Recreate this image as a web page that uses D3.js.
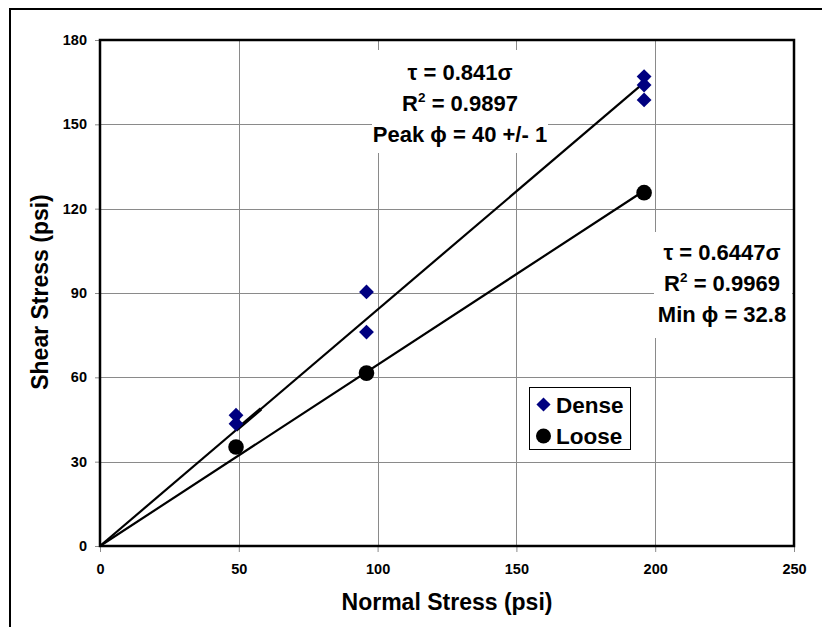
<!DOCTYPE html>
<html><head><meta charset="utf-8">
<script src="https://cdn.jsdelivr.net/npm/d3@7"></script>
<style>body{margin:0;background:#fff}svg{display:block}text{font-family:Arial,"Liberation Sans",sans-serif;font-weight:bold}</style>
</head><body>
<svg id="c" width="822" height="627"></svg>
<script>
// ---- data ----
const xTicks = [0, 50, 100, 150, 200, 250];
const yTicks = [0, 30, 60, 90, 120, 150, 180];
const denseX = [49, 49, 96, 96, 196, 196, 196];
const denseY = [46.5, 43.5, 90.4, 76.1, 167, 164, 158.7];
const looseX = [49, 96, 196];
const looseY = [35.2, 61.5, 125.7];
const denseSlope = 0.841;
const looseSlope = 0.6447;
const fitRange = [0, 196];
const denseExtraRange = [49, 58];
const seriesNames = ["Dense", "Loose"];
const denseLabel = ["τ = 0.841σ", "R|2| = 0.9897", "Peak ϕ = 40 +/- 1"];
const looseLabel = ["τ = 0.6447σ", "R|2| = 0.9969", "Min ϕ = 32.8"];
const xTitle = "Normal Stress (psi)";
const yTitle = "Shear Stress (psi)";

// ---- chart ----
const svg = d3.select("#c");
const x = d3.scaleLinear().domain([0, 250]).range([100, 794]);
const y = d3.scaleLinear().domain([0, 180]).range([546, 40]);

// outer frame
svg.append("rect").attr("x", 10).attr("y", 9).attr("width", 900).attr("height", 700)
  .attr("fill", "none").attr("stroke", "#000").attr("stroke-width", 2);

// gridlines
const grid = svg.append("g").attr("stroke", "#8a8a8a").attr("stroke-width", 1);
yTicks.slice(1, -1).forEach(t => grid.append("line").attr("x1", x(0)).attr("x2", x(250))
  .attr("y1", Math.round(y(t)) + 0.5).attr("y2", Math.round(y(t)) + 0.5));
xTicks.slice(1, -1).forEach(t => grid.append("line").attr("y1", y(0)).attr("y2", y(180))
  .attr("x1", Math.round(x(t)) + 0.5).attr("x2", Math.round(x(t)) + 0.5));

// axes
const xAxis = d3.axisBottom(x).tickValues(xTicks).tickSize(6).tickPadding(12);
const yAxis = d3.axisLeft(y).tickValues(yTicks).tickSize(5).tickPadding(8);
const gx = svg.append("g").attr("transform", `translate(0,${y(0)})`).call(xAxis);
const gy = svg.append("g").attr("transform", `translate(${x(0)},0)`).call(yAxis);
[gx, gy].forEach(g => {
  g.select(".domain").remove();
  g.selectAll(".tick line").attr("stroke", "#8a8a8a");
  g.selectAll(".tick text").attr("font-size", 14.5).attr("font-family", "Arial, 'Liberation Sans', sans-serif")
    .attr("font-weight", "bold").attr("fill", "#000");
});
gx.selectAll(".tick text").attr("dy", "0.71em");

// plot frame
svg.append("rect").attr("x", x(0)).attr("y", y(180)).attr("width", x(250) - x(0)).attr("height", y(0) - y(180))
  .attr("fill", "none").attr("stroke", "#000").attr("stroke-width", 2.5);

// fit lines
const line = d3.line().x(d => x(d[0])).y(d => y(d[1]));
svg.append("path").datum(fitRange.map(v => [v, v * denseSlope])).attr("d", line)
  .attr("stroke", "#000").attr("stroke-width", 2.2).attr("fill", "none");
svg.append("path").datum(fitRange.map(v => [v, v * looseSlope])).attr("d", line)
  .attr("stroke", "#000").attr("stroke-width", 2.2).attr("fill", "none");
svg.append("path").datum(denseExtraRange.map(v => [v, v * denseSlope])).attr("d", line)
  .attr("stroke", "#000").attr("stroke-width", 3.5).attr("fill", "none");

// markers
const diamond = d3.symbol().type(d3.symbolSquare).size(110);
svg.append("g").selectAll("path").data(denseX.map((v, i) => [v, denseY[i]])).join("path")
  .attr("d", diamond).attr("transform", d => `translate(${x(d[0])},${y(d[1])}) rotate(45)`)
  .attr("fill", "#000080");
svg.append("g").selectAll("circle").data(looseX.map((v, i) => [v, looseY[i]])).join("circle")
  .attr("cx", d => x(d[0])).attr("cy", d => y(d[1])).attr("r", 7.8).attr("fill", "#000");

// annotation boxes
function annot(lines, cx, y0, box) {
  svg.append("rect").attr("x", box[0]).attr("y", box[1]).attr("width", box[2]).attr("height", box[3]).attr("fill", "#fff");
  lines.forEach((s, i) => {
    const t = svg.append("text").attr("x", cx).attr("y", y0 + i * 30.8).attr("text-anchor", "middle")
      .attr("font-size", 22);
    const parts = s.split("|");
    if (parts.length === 1) t.text(s);
    else {
      t.append("tspan").text(parts[0]);
      t.append("tspan").text(parts[1]).attr("font-size", 13.5).attr("dy", -9);
      t.append("tspan").text(parts[2]).attr("dy", 9);
    }
  });
}
annot(denseLabel, 460, 80, [372, 50, 176, 103]);
annot(looseLabel, 722, 260, [654, 232, 138, 106]);

// legend
const lg = svg.append("g");
lg.append("rect").attr("x", 529.5).attr("y", 387.5).attr("width", 101).attr("height", 62)
  .attr("fill", "#fff").attr("stroke", "#000").attr("stroke-width", 1);
lg.append("path").attr("d", d3.symbol().type(d3.symbolSquare).size(100)())
  .attr("transform", "translate(543.5,404.5) rotate(45)").attr("fill", "#000080");
lg.append("circle").attr("cx", 543.5).attr("cy", 436).attr("r", 7.5).attr("fill", "#000");
lg.selectAll("text").data(seriesNames).join("text").attr("x", 556).attr("y", (d, i) => 412.5 + i * 31)
  .attr("font-size", 22.5).text(d => d);

// axis titles
svg.append("text").attr("x", 447).attr("y", 610).attr("text-anchor", "middle").attr("font-size", 23).text(xTitle);
svg.append("text").attr("transform", "translate(48,292) rotate(-90)").attr("text-anchor", "middle")
  .attr("font-size", 23).text(yTitle);
</script>
</body></html>
